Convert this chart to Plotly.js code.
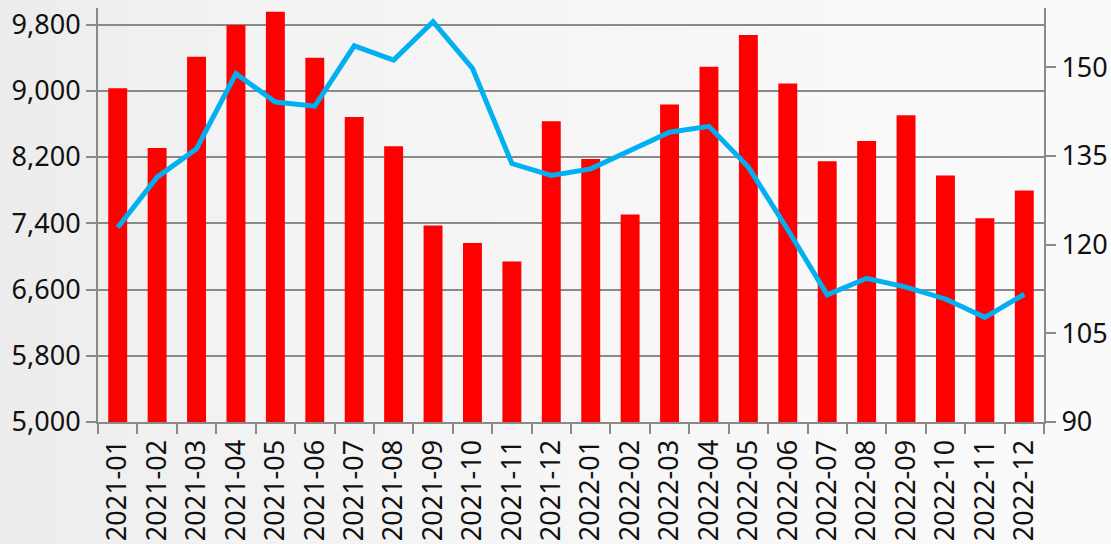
<!DOCTYPE html>
<html>
<head>
<meta charset="utf-8">
<script src="https://cdn.plot.ly/plotly-3.0.1.min.js"></script>
<style>
  html, body { margin: 0; padding: 0; }
  #chart { width: 1111px; height: 544px;
    background: linear-gradient(90deg, #ececec 0%, #f2f2f2 20%, #f7f7f7 60%, #fafafa 100%); }
</style>
</head>
<body>
<div id="chart"></div>
<script>
const months = ["2021-01","2021-02","2021-03","2021-04","2021-05","2021-06","2021-07","2021-08","2021-09","2021-10","2021-11","2021-12",
                "2022-01","2022-02","2022-03","2022-04","2022-05","2022-06","2022-07","2022-08","2022-09","2022-10","2022-11","2022-12"];
const barValues = [9030, 8310, 9410, 9794, 9955, 9398, 8684, 8330, 7373, 7163, 6937, 8632,
                   8176, 7506, 8836, 9289, 9673, 9088, 8148, 8393, 8705, 7978, 7461, 7797];
const lineValues = [122.9, 131.4, 136.2, 148.9, 144.1, 143.4, 153.6, 151.2, 157.7, 149.8, 133.7, 131.7,
                    132.8, 135.9, 139.0, 140.0, 133.1, 122.5, 111.5, 114.3, 112.8, 110.8, 107.7, 111.6];
const leftTicks = [5000, 5800, 6600, 7400, 8200, 9000, 9800];
const rightTicks = [90, 105, 120, 135, 150];

const tickFont = {family: "Noto Sans, Open Sans, sans-serif", size: 27, color: "#111111"};
const axisGray = "#8a8a8a";

const traces = [
  {type: "bar", x: months, y: barValues, marker: {color: "#ff0000"}, yaxis: "y", hoverinfo: "x+y"},
  {type: "scatter", mode: "lines", x: months, y: lineValues, yaxis: "y2",
   line: {color: "#00b0f0", width: 5}, hoverinfo: "x+y"}
];

const layout = {
  width: 1111, height: 544,
  margin: {l: 98, r: 67, t: 8, b: 122},
  paper_bgcolor: "rgba(0,0,0,0)",
  plot_bgcolor: "rgba(0,0,0,0)",
  showlegend: false,
  bargap: 0.52,
  font: tickFont,
  xaxis: {
    type: "category",
    tickangle: -90,
    tickson: "boundaries",
    ticks: "outside", ticklen: 10, tickwidth: 2, tickcolor: axisGray,
    ticklabelstandoff: 5,
    showline: true, linecolor: axisGray, linewidth: 2,
    showgrid: false, zeroline: false,
    tickfont: tickFont
  },
  yaxis: {
    range: [5000, 10000],
    tickvals: leftTicks,
    tickformat: ",d",
    ticks: "outside", ticklen: 10, tickwidth: 2, tickcolor: axisGray,
    showline: true, linecolor: axisGray, linewidth: 2,
    showgrid: true, gridcolor: axisGray, gridwidth: 2,
    zeroline: false,
    tickfont: tickFont
  },
  yaxis2: {
    range: [90, 160],
    tickvals: rightTicks,
    overlaying: "y", side: "right",
    ticks: "outside", ticklen: 10, tickwidth: 2, tickcolor: axisGray,
    showline: true, linecolor: axisGray, linewidth: 2,
    showgrid: false, zeroline: false,
    tickfont: tickFont
  }
};

Plotly.newPlot("chart", traces, layout, {displayModeBar: false, staticPlot: true});
</script>
</body>
</html>
